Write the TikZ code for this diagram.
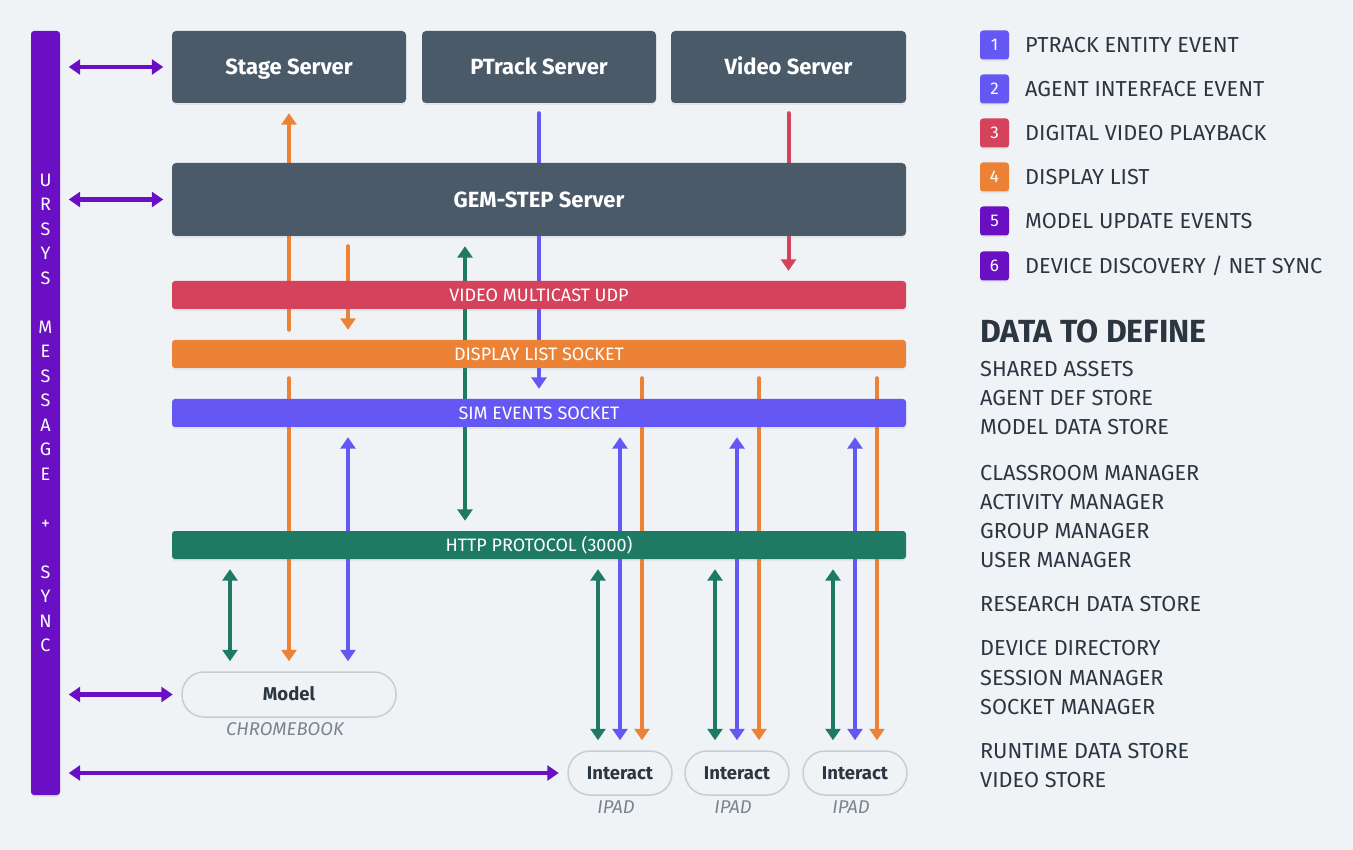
\documentclass[tikz,border=0pt]{standalone}
\usepackage{fontspec}
\setmainfont{Fira Sans}
\usetikzlibrary{arrows.meta,shadows}
\definecolor{bgc}{HTML}{F0F3F6}
\definecolor{slate}{HTML}{4A5A69}
\definecolor{ursysc}{HTML}{6B0FC5}
\definecolor{redc}{HTML}{D4425B}
\definecolor{orangec}{HTML}{EC8236}
\definecolor{bluec}{HTML}{6557F3}
\definecolor{greenc}{HTML}{1F7A64}
\definecolor{darktext}{HTML}{2B3641}
\definecolor{graytext}{HTML}{7B848C}
\definecolor{pillborder}{HTML}{C8CDD2}
\pgfdeclarelayer{back}
\pgfdeclarelayer{lines}
\pgfsetlayers{back,lines,main}
\begin{document}
\begin{tikzpicture}[x=1pt,y=-1pt,
  >={Triangle[width=15pt,length=11.5pt]},
  softshadow/.style={drop shadow={opacity=0.12, shadow xshift=0pt, shadow yshift=-2pt}},
  server/.style={fill=slate, rounded corners=4pt, text=white, inner sep=0pt,
    font=\bfseries\fontsize{22}{26}\selectfont, text height=15.5pt, text depth=0pt,
    minimum height=72pt, softshadow},
  bar/.style={rounded corners=3pt, text=white, inner sep=0pt, minimum width=734pt,
    minimum height=28pt, font=\fontsize{18}{22}\selectfont, text height=12.5pt, text depth=0pt,
    softshadow},
  pill/.style={draw=pillborder, line width=1.5pt, fill=bgc, rounded corners=22pt,
    inner sep=0pt, text=darktext, font=\bfseries\fontsize{18.5}{22}\selectfont,
    text height=12.7pt, text depth=0pt, minimum height=44pt},
  devlabel/.style={text=graytext, font=\itshape\fontsize{18.5}{22}\selectfont, inner sep=0pt, anchor=base},
  legsq/.style={rounded corners=3pt, minimum width=29pt, minimum height=29pt, inner sep=0pt,
    text=white, font=\fontsize{17}{20}\selectfont, text height=12pt, text depth=0pt, softshadow},
  legtx/.style={anchor=base west, inner sep=0pt, text=darktext, font=\fontsize{21.7}{26}\selectfont},
  conn/.style={line width=4pt, line cap=round, shorten >=10pt, shorten <=10pt},
  hconn/.style={line width=4.2pt, draw=ursysc, <->, shorten >=8.5pt, shorten <=8.5pt},
]
\begin{pgfonlayer}{back}
  \fill[bgc] (0,0) rectangle (1353,850);
\end{pgfonlayer}
\useasboundingbox (0,0) rectangle (1353,850);

% URSYS bar
\node[fill=ursysc, rounded corners=3pt, minimum width=29pt, minimum height=764pt, inner sep=0pt, softshadow] (ursys) at (45.5,413) {};
\node[text=white, align=center, inner sep=0pt, font=\fontsize{18}{24.5}\selectfont] (ursystext) at (45.5,413)
  {U\\R\\S\\Y\\S\\~\\M\\E\\S\\S\\A\\G\\E\\~\\+\\~\\S\\Y\\N\\C};

% servers
\node[server, minimum width=234pt] (stage) at (289,67) {Stage Server};
\node[server, minimum width=234pt] (ptrack) at (539,67) {PTrack Server};
\node[server, minimum width=235pt] (video) at (788.5,67) {Video Server};
\node[server, minimum width=734pt, minimum height=73pt] (gem) at (539,199.5) {GEM-STEP Server};

% bars
\node[bar, fill=redc] (udp) at (539,295) {VIDEO MULTICAST UDP};
\node[bar, fill=orangec] (dls) at (539,354) {DISPLAY LIST SOCKET};
\node[bar, fill=bluec] (sim) at (539,413) {SIM EVENTS SOCKET};
\node[bar, fill=greenc] (http) at (539,545) {HTTP PROTOCOL (3000)};

% devices
\node[pill, minimum width=214pt, minimum height=45pt] (model) at (289,694.5) {Model};
\node[devlabel] (cb) at (285,735.7) {CHROMEBOOK};
\node[pill, minimum width=104pt] (ia) at (620,773) {Interact};
\node[pill, minimum width=104pt] (ib) at (737,773) {Interact};
\node[pill, minimum width=104pt] (ic) at (855,773) {Interact};
\node[devlabel] (pa) at (616,813.3) {IPAD};
\node[devlabel] (pb) at (733,813.3) {IPAD};
\node[devlabel] (pc) at (851,813.3) {IPAD};

% column coordinates
\coordinate (g1) at (465,0);
\coordinate (o2) at (348,0);
\coordinate (g0) at (230,0);
\coordinate (ga) at ([xshift=-22pt]ia.north);
\coordinate (oa) at ([xshift=22pt]ia.north);
\coordinate (gb) at ([xshift=-22pt]ib.north);
\coordinate (ob) at ([xshift=22pt]ib.north);
\coordinate (gc) at ([xshift=-22pt]ic.north);
\coordinate (oc) at ([xshift=22pt]ic.north);

\begin{pgfonlayer}{lines}
  % upper connectors
  \draw[conn, orangec, ->] (stage.south |- dls.north) -- (stage.south);
  \draw[conn, bluec, ->] (ptrack.south) -- (ptrack.south |- sim.north);
  \draw[conn, redc, ->] (video.south) -- (video.south |- udp.north);
  \draw[conn, greenc, <->] (g1 |- gem.south) -- (g1 |- http.north);
  \draw[conn, orangec, ->] (o2 |- gem.south) -- (o2 |- dls.north);
  % chromebook connectors
  \draw[conn, orangec, ->] (model.north |- dls.south) -- (model.north);
  \draw[conn, bluec, <->] (o2 |- sim.south) -- (o2 |- model.north);
  \draw[conn, greenc, <->] (g0 |- http.south) -- (g0 |- model.north);
  % ipad connectors
  \draw[conn, greenc, <->] (ga |- http.south) -- (ga);
  \draw[conn, bluec, <->] (ia.north |- sim.south) -- (ia.north);
  \draw[conn, orangec, ->] (oa |- dls.south) -- (oa);
  \draw[conn, greenc, <->] (gb |- http.south) -- (gb);
  \draw[conn, bluec, <->] (ib.north |- sim.south) -- (ib.north);
  \draw[conn, orangec, ->] (ob |- dls.south) -- (ob);
  \draw[conn, greenc, <->] (gc |- http.south) -- (gc);
  \draw[conn, bluec, <->] (ic.north |- sim.south) -- (ic.north);
  \draw[conn, orangec, ->] (oc |- dls.south) -- (oc);
  % ursys connectors
  \draw[hconn] (ursys.east |- stage.west) -- (stage.west);
  \draw[hconn] (ursys.east |- gem.west) -- (gem.west);
  \draw[hconn] (ursys.east |- model.west) -- (model.west);
  \draw[hconn] (ursys.east |- ia.west) -- (ia.west);
\end{pgfonlayer}

% legend
\node[legsq, fill=bluec] (l1) at (994.5,45) {1};
\node[legsq, fill=bluec] (l2) at (994.5,89) {2};
\node[legsq, fill=redc] (l3) at (994.5,133) {3};
\node[legsq, fill=orangec] (l4) at (994.5,177) {4};
\node[legsq, fill=ursysc] (l5) at (994.5,221) {5};
\node[legsq, fill=ursysc] (l6) at (994.5,266) {6};
\node[legtx] (t1) at (1025,52.5) {PTRACK ENTITY EVENT};
\node[legtx] (t2) at (1025,96.5) {AGENT INTERFACE EVENT};
\node[legtx] (t3) at (1025,140.5) {DIGITAL VIDEO PLAYBACK};
\node[legtx] (t4) at (1025,184.5) {DISPLAY LIST};
\node[legtx] (t5) at (1025,228.5) {MODEL UPDATE EVENTS};
\node[legtx] (t6) at (1025,273.5) {DEVICE DISCOVERY / NET SYNC};

% data to define
\node[legtx, font=\bfseries\fontsize{32}{36}\selectfont] (dtd) at (980,343) {DATA TO DEFINE};
\node[legtx] (d1) at (980,376.7) {SHARED ASSETS};
\node[legtx] (d2) at (980,406) {AGENT DEF STORE};
\node[legtx] (d3) at (980,435) {MODEL DATA STORE};
\node[legtx] (d4) at (980,480) {CLASSROOM MANAGER};
\node[legtx] (d5) at (980,509) {ACTIVITY MANAGER};
\node[legtx] (d6) at (980,538) {GROUP MANAGER};
\node[legtx] (d7) at (980,567) {USER MANAGER};
\node[legtx] (d8) at (980,611) {RESEARCH DATA STORE};
\node[legtx] (d9) at (980,655.7) {DEVICE DIRECTORY};
\node[legtx] (d10) at (980,685) {SESSION MANAGER};
\node[legtx] (d11) at (980,714) {SOCKET MANAGER};
\node[legtx] (d12) at (980,758) {RUNTIME DATA STORE};
\node[legtx] (d13) at (980,787) {VIDEO STORE};
\end{tikzpicture}
\end{document}
